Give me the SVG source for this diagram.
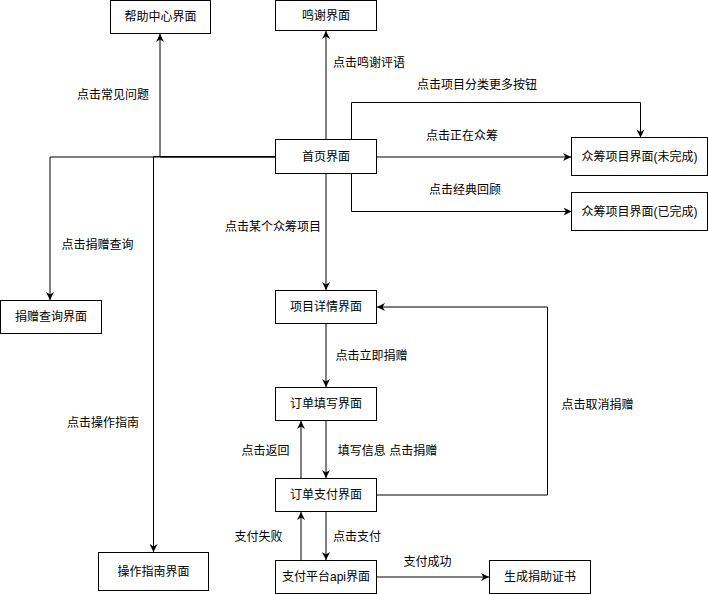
<svg xmlns="http://www.w3.org/2000/svg" width="708" height="594" viewBox="0 0 708 594">
<style>
.box{fill:#fff;stroke:#000;stroke-width:1}
.t{font-family:"Liberation Sans","Noto Sans CJK SC",sans-serif;font-size:12px;fill:#000;text-anchor:middle}
.e{fill:none;stroke:#000;stroke-width:1}
</style>
<defs>
<marker id="a" viewBox="0 0 10 10" refX="10" refY="5" markerWidth="8" markerHeight="8" markerUnits="userSpaceOnUse" orient="auto">
<path d="M0,0 L10,5 L0,10 L3,5 z" fill="#000"/>
</marker>
</defs>
<rect width="708" height="594" fill="#fff"/>
<g id="connectors">
<path class="e" d="M275,157 H160 V34" marker-end="url(#a)"/>
<path class="e" d="M275,157 H50 V300" marker-end="url(#a)"/>
<path class="e" d="M275.5,156.5 H153.5 V552" marker-end="url(#a)"/>
<path class="e" d="M326,139 V31" marker-end="url(#a)"/>
<path class="e" d="M377,157 H571" marker-end="url(#a)"/>
<path class="e" d="M351.5,139.5 V102.5 H640.5 V137.5" marker-end="url(#a)"/>
<path class="e" d="M351.5,173.5 V211.5 H571.5" marker-end="url(#a)"/>
<path class="e" d="M326,174 V290" marker-end="url(#a)"/>
<path class="e" d="M326,324 V387" marker-end="url(#a)"/>
<path class="e" d="M326,421 V478" marker-end="url(#a)"/>
<path class="e" d="M301,478 V421" marker-end="url(#a)"/>
<path class="e" d="M377,495 H547.5 V307 H377" marker-end="url(#a)"/>
<path class="e" d="M301,560 V512" marker-end="url(#a)"/>
<path class="e" d="M326,512 V560" marker-end="url(#a)"/>
<path class="e" d="M377,577 H489" marker-end="url(#a)"/>
</g>
<g id="labels">
<text class="t" x="113" y="99">点击常见问题</text>
<text class="t" x="369" y="67">点击鸣谢评语</text>
<text class="t" x="477" y="89">点击项目分类更多按钮</text>
<text class="t" x="462" y="140">点击正在众筹</text>
<text class="t" x="465" y="194">点击经典回顾</text>
<text class="t" x="273" y="231">点击某个众筹项目</text>
<text class="t" x="97.5" y="249">点击捐赠查询</text>
<text class="t" x="103" y="427">点击操作指南</text>
<text class="t" x="371.5" y="360">点击立即捐赠</text>
<text class="t" x="597.5" y="409">点击取消捐赠</text>
<text class="t" x="265.5" y="455">点击返回</text>
<text class="t" x="387.5" y="455">填写信息 点击捐赠</text>
<text class="t" x="258.5" y="541">支付失败</text>
<text class="t" x="357" y="541">点击支付</text>
<text class="t" x="427.5" y="566">支付成功</text>
</g>
<g id="help"><rect class="box" x="110.5" y="0.5" width="100" height="33"/><text class="t" x="160.5" y="21">帮助中心界面</text></g>
<g id="thanks"><rect class="box" x="275.5" y="0.5" width="101" height="30"/><text class="t" x="326" y="20">鸣谢界面</text></g>
<g id="home"><rect class="box" x="275.5" y="139.5" width="101" height="34"/><text class="t" x="326" y="161">首页界面</text></g>
<g id="ongoing"><rect class="box" x="571.5" y="137.5" width="136" height="38"/><text class="t" x="639.5" y="161">众筹项目界面(未完成)</text></g>
<g id="finished"><rect class="box" x="571.5" y="192.5" width="136" height="38"/><text class="t" x="639.5" y="216">众筹项目界面(已完成)</text></g>
<g id="query"><rect class="box" x="0.5" y="300.5" width="101" height="33"/><text class="t" x="51" y="321">捐赠查询界面</text></g>
<g id="guide"><rect class="box" x="98.5" y="552.5" width="110" height="38"/><text class="t" x="153.5" y="576">操作指南界面</text></g>
<g id="detail"><rect class="box" x="275.5" y="290.5" width="101" height="33"/><text class="t" x="326" y="311">项目详情界面</text></g>
<g id="fill"><rect class="box" x="275.5" y="387.5" width="101" height="33"/><text class="t" x="326" y="408">订单填写界面</text></g>
<g id="pay"><rect class="box" x="275.5" y="478.5" width="101" height="33"/><text class="t" x="326" y="499">订单支付界面</text></g>
<g id="api"><rect class="box" x="275.5" y="560.5" width="101" height="33"/><text class="t" x="326" y="581">支付平台api界面</text></g>
<g id="cert"><rect class="box" x="489.5" y="560.5" width="101" height="33"/><text class="t" x="540" y="581">生成捐助证书</text></g>
</svg>
